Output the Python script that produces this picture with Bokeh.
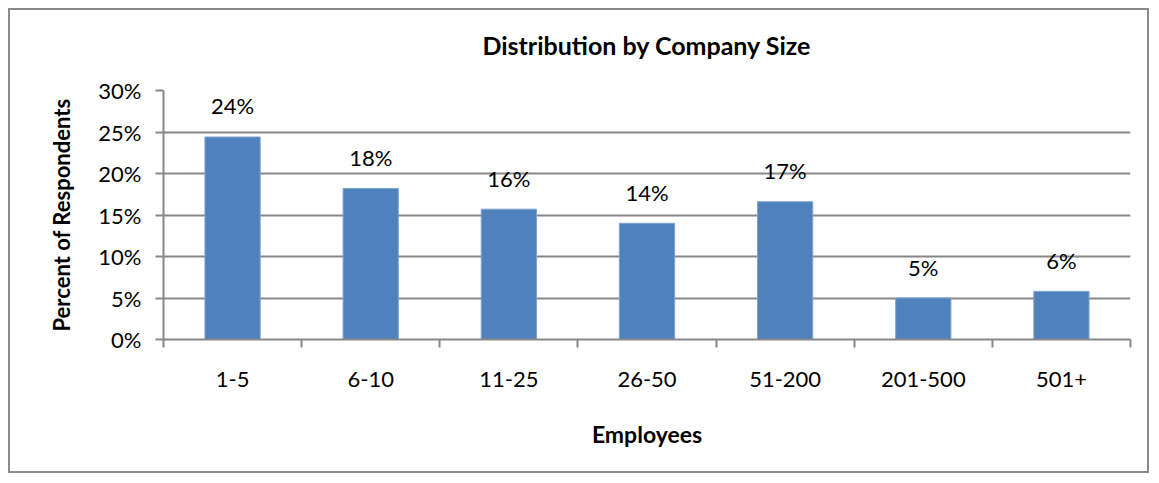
from bokeh.plotting import figure
from bokeh.models import ColumnDataSource, Range1d, FixedTicker, NumeralTickFormatter, Title
from bokeh.core.properties import value
from bokeh.embed import file_html
from bokeh.resources import INLINE

categories = ["1-5", "6-10", "11-25", "26-50", "51-200", "201-500", "501+"]
percents = [24.4, 18.2, 15.7, 14.0, 16.6, 5.0, 5.8]
y_ticks = [0.0, 0.05, 0.10, 0.15, 0.20, 0.25, 0.30]
title_text = "Distribution by Company Size"

FONT = "Lato"
GRID = "#878787"
BAR = "#4F81BD"

xs = [i + 0.5 for i in range(len(categories))]
fracs = [v / 100.0 for v in percents]
labels = [f"{v:.0f}%" for v in percents]
src = ColumnDataSource(dict(x=xs, y=fracs, label=labels))

p = figure(width=1141, height=465, output_backend="svg", toolbar_location=None,
           x_range=Range1d(0, len(categories)), y_range=Range1d(0, 0.30),
           min_border_left=153, min_border_right=21, min_border_top=80, min_border_bottom=136,
           margin=(8, 0, 0, 8), styles={"border": "2px solid #8a8a8a", "box-sizing": "border-box"})

# white spacer between the title and the plot area, then the title
spacer = Title(text=" ", text_font_size="1px", text_color="white", standoff=28)
p.add_layout(spacer, "above")
main_title = Title(text=title_text, align="center", text_font=FONT, text_font_size="25px",
                   text_font_style="bold", text_color="#000000", standoff=0)
p.add_layout(main_title, "above")

p.outline_line_color = None
p.background_fill_color = "white"
p.border_fill_color = "white"

p.vbar(x="x", top="y", width=0.4, source=src, fill_color=BAR, line_color="#7FA3D3", line_width=1)
p.text(x="x", y="y", text="label", source=src, text_align="center", text_baseline="alphabetic",
       y_offset=-31, text_font=value(FONT), text_font_size="22px", text_color="#000000")

# y axis
yax = p.yaxis[0]
yax.ticker = FixedTicker(ticks=y_ticks)
yax.formatter = NumeralTickFormatter(format="0%")
yax.axis_line_color = GRID
yax.axis_line_width = 2
yax.major_tick_line_color = GRID
yax.major_tick_line_width = 2
yax.major_tick_out = 8
yax.major_tick_in = 0
yax.minor_tick_line_color = None
yax.major_label_text_font = FONT
yax.major_label_text_font_size = "22px"
yax.major_label_text_color = "#000000"
yax.major_label_standoff = 14
yax.axis_label = "Percent of Respondents"
yax.axis_label_text_font = FONT
yax.axis_label_text_font_size = "22px"
yax.axis_label_text_font_style = "bold"
yax.axis_label_text_color = "#000000"
yax.axis_label_standoff = 20

# x axis
xax = p.xaxis[0]
xax.ticker = FixedTicker(ticks=xs, minor_ticks=list(range(len(categories) + 1)))
xax.major_label_overrides = {x: c for x, c in zip(xs, categories)}
xax.axis_line_color = GRID
xax.axis_line_width = 2
xax.major_tick_line_color = None
xax.major_tick_out = 8
xax.major_tick_in = 0
xax.minor_tick_line_color = GRID
xax.minor_tick_line_width = 2
xax.minor_tick_out = 8
xax.minor_tick_in = 0
xax.major_label_text_font = FONT
xax.major_label_text_font_size = "22px"
xax.major_label_text_color = "#000000"
xax.major_label_standoff = 24
xax.axis_label = "Employees"
xax.axis_label_text_font = FONT
xax.axis_label_text_font_size = "23px"
xax.axis_label_text_font_style = "bold"
xax.axis_label_text_color = "#000000"
xax.axis_label_standoff = 30

p.xgrid.visible = False
p.ygrid.ticker = FixedTicker(ticks=y_ticks)
p.ygrid.grid_line_color = GRID
p.ygrid.grid_line_width = 2

open("out.html", "w").write(file_html(p, INLINE))
